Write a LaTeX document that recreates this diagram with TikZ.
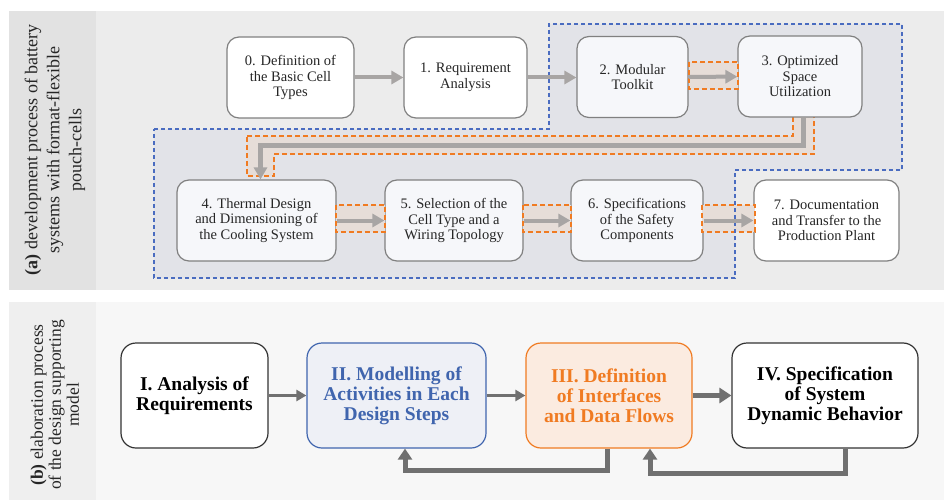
\documentclass[tikz,border=0pt]{standalone}
\usepackage{fontspec}
\setmainfont{Liberation Serif}
\usetikzlibrary{arrows.meta}

\definecolor{panelA}{HTML}{ECECEC}
\definecolor{stripA}{HTML}{E2E2E2}
\definecolor{panelB}{HTML}{F7F7F7}
\definecolor{stripB}{HTML}{EFEFEF}
\definecolor{zoneblue}{HTML}{4A6CC0}
\definecolor{zonefill}{HTML}{E2E3E8}
\definecolor{hlorange}{HTML}{F07B22}
\definecolor{hlfill}{HTML}{E6DDD8}
\definecolor{boxgray}{HTML}{808080}
\definecolor{arrgray}{HTML}{A8A5A4}
\definecolor{darkarr}{HTML}{707070}
\definecolor{modblue}{HTML}{4065AE}
\definecolor{modfill}{HTML}{EEF0F6}
\definecolor{ifcfill}{HTML}{FBEBE0}
\definecolor{stepfill}{HTML}{F6F7FA}

\begin{document}
\begin{tikzpicture}[x=1pt,y=-1pt,
  stepbox/.style={draw=boxgray, line width=1.2pt, rounded corners=12pt, fill=white,
    align=center, text=black!85, minimum height=81pt, inner sep=2pt,
    font=\fontsize{14.5}{15.5}\selectfont},
  zonestep/.style={stepbox, fill=stepfill},
  modbox/.style={draw=black!80, line width=1.2pt, rounded corners=15pt, fill=white,
    align=center, minimum height=105pt, inner sep=2pt,
    font=\bfseries\fontsize{19.5}{20}\selectfont},
  steparrow/.style={draw=arrgray, line width=4pt, -{Triangle[length=12pt,width=13pt]}},
  hlbox/.style={draw=hlorange, fill=hlfill, line width=1.6pt, dash pattern=on 5pt off 3pt},
  zone/.style={draw=zoneblue, line width=1.5pt, dash pattern=on 4pt off 3pt},
  modarrow/.style={draw=darkarr, line width=3pt, -{Triangle[length=10pt,width=11pt]}},
  fbarrow/.style={draw=darkarr, line width=5pt, -{Triangle[length=11pt,width=14pt]}}]
\useasboundingbox (0,0) rectangle (944,500);

% panels
\fill[panelA] (9,11) rectangle (944,290);
\fill[stripA] (9,11) rectangle (96,290);
\fill[panelB] (9,302) rectangle (944,500);
\fill[stripB] (9,302) rectangle (96,500);

\node[rotate=90, align=center, text=black!85, font=\fontsize{18}{22}\selectfont] (lblA) at (55,150)
  {\textbf{(a)} development process of battery\\systems with format-flexible\\pouch-cells};
\node[rotate=90, align=center, text=black!85, font=\fontsize{17.5}{18}\selectfont] (lblB) at (55,405)
  {\textbf{(b)} elaboration process\\of the design supporting\\model};

% zone of the design supporting model
\fill[zonefill] (154,129) -- (549,129) -- (549,24) -- (902,24) -- (902,170) -- (735,170) -- (735,278) -- (154,278) -- cycle;
\draw[hlbox] (247,136) -- (793,136) -- (793,116) -- (814,116) -- (814,154) -- (274,154) -- (274,176) -- (247,176) -- cycle;

% steps (a)
\node[stepbox, minimum width=127pt] (b0) at (290.5,77.5) {0. Definition of\\the Basic Cell\\Types};
\node[stepbox, minimum width=123pt] (b1) at (465.5,77.5) {1. Requirement\\Analysis};
\node[zonestep, minimum width=111pt] (b2) at (632.5,77) {2. Modular\\Toolkit};
\node[zonestep, minimum width=124pt] (b3) at (800,76.5) {3. Optimized\\Space\\Utilization};
\node[zonestep, minimum width=159pt] (b4) at (256.5,220.5) {4. Thermal Design\\and Dimensioning of\\the Cooling System};
\node[zonestep, minimum width=138pt] (b5) at (454,220.5) {5. Selection of the\\Cell Type and a\\Wiring Topology};
\node[zonestep, minimum width=132pt] (b6) at (637,220.5) {6. Specifications\\of the Safety\\Components};
\node[stepbox, minimum width=145pt] (b7) at (826.5,220.5) {7. Documentation\\and Transfer to the\\Production Plant};

\draw[hlbox] (689,62) rectangle (738,89);
\draw[hlbox] (336,205) rectangle (385,232);
\draw[hlbox] (523,205) rectangle (571,232);
\draw[hlbox] (702,205) rectangle (755,232);
\draw[zone] (154,129) -- (549,129) -- (549,24) -- (902,24) -- (902,170) -- (735,170) -- (735,278) -- (154,278) -- cycle;

\draw[steparrow] (b0) -- (b1);
\draw[steparrow] (b1.east) -- (b1.east -| b2.west);
\draw[steparrow] (b2) -- (b3);
\draw[steparrow, line width=5pt] ([xshift=3pt]b3.south) -- ++(0,28) -| ([xshift=4pt]b4.north);
\draw[steparrow] (b4) -- (b5);
\draw[steparrow] (b5) -- (b6);
\draw[steparrow] (b6) -- (b7);

% elaboration (b)
\node[modbox, minimum width=147pt] (m1) at (194.5,395.5) {I. Analysis of\\Requirements};
\node[modbox, minimum width=179pt, draw=modblue, fill=modfill, text=modblue] (m2) at (396.5,395.5) {II. Modelling of\\Activities in Each\\Design Steps};
\node[modbox, minimum width=166pt, draw=hlorange, fill=ifcfill, text=hlorange] (m3) at (609,395.5) {III. Definition\\of Interfaces\\and Data Flows};
\node[modbox, minimum width=186pt] (m4) at (825,395.5) {IV. Specification\\of System\\Dynamic Behavior};

\draw[modarrow] (m1) -- (m2);
\draw[modarrow] (m2) -- (m3);
\draw[modarrow, line width=5pt, -{Triangle[length=12pt,width=15pt]}] (m3) -- (m4);
\draw[fbarrow] ([xshift=-2pt]m3.south) -- ++(0,22) -| ([xshift=8.5pt]m2.south);
\draw[fbarrow] ([xshift=20pt]m4.south) -- ++(0,25) -| ([xshift=41pt]m3.south);
\end{tikzpicture}
\end{document}
